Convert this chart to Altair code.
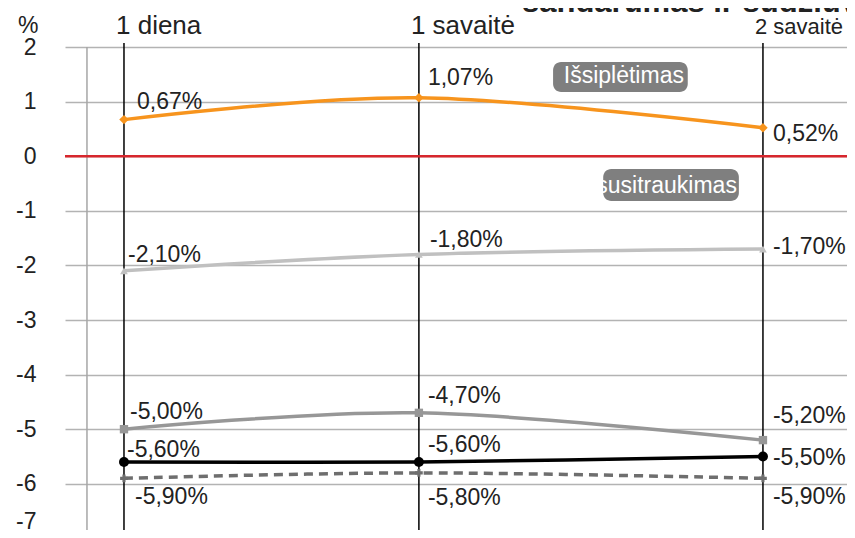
import altair as alt
import pandas as pd

# ---------------- data ----------------
days = [1, 7, 14]
period_labels = ["1 diena", "1 savaitė", "2 savaitė"]

series_keys = ["orange", "light", "gray", "black", "dashed"]
orange_vals = [0.67, 1.07, 0.52]
light_vals = [-2.10, -1.80, -1.70]
gray_vals = [-5.00, -4.70, -5.20]
black_vals = [-5.60, -5.60, -5.50]
dashed_vals = [-5.90, -5.80, -5.90]

y_tick_values = [2, 1, 0, -1, -2, -3, -4, -5, -6]
y_bottom_label = "-7"
y_unit_label = "%"
title_text = "sandarumas ir sudžiūvimas"
annot_texts = ["Išsiplėtimas", "susitraukimas"]

# ---------------- layout / style ----------------
W, H = 782, 483
X_DOMAIN = [-0.2, 15.71]
Y_MIN = -6.846
Y_DOMAIN = [Y_MIN, 2]
FONT = "Liberation Sans"
TXT = "#222222"
TOP_FONT_SIZES = [26, 26, 22]

STYLE = {
    "orange": dict(color="#f7941d", shape="diamond", size=90, dash=None),
    "light": dict(color="#c0c0c0", shape="triangle-up", size=60, dash=None),
    "gray": dict(color="#979797", shape="square", size=70, dash=None),
    "black": dict(color="#000000", shape="circle", size=100, dash=None),
    "dashed": dict(color="#6e6e6e", shape="cross", size=60, dash=[9, 6]),
}
LABEL_OFFSETS = {
    "orange": [(13, -18), (9, -20), (10, 6)],
    "light": [(4, -16), (11, -14), (10, -2)],
    "gray": [(6, -17), (9, -17), (10, -24)],
    "black": [(3, -12), (9, -17), (10, 1)],
    "dashed": [(11, 19), (9, 25), (10, 19)],
}
ANNOT_LAYOUT = [
    dict(x=9.73, x2=12.47, y=1.725, y2=1.176, tx=11.17, ty=1.469, align="center"),
    dict(x=10.75, x2=13.51, y=-0.234, y2=-0.82, tx=13.47, ty=-0.546, align="right"),
]

values_by_key = {
    "orange": orange_vals,
    "light": light_vals,
    "gray": gray_vals,
    "black": black_vals,
    "dashed": dashed_vals,
}

xscale = alt.Scale(domain=X_DOMAIN, nice=False, zero=False)
yscale = alt.Scale(domain=Y_DOMAIN, nice=False, zero=False)

yaxis = alt.Axis(
    values=y_tick_values + [Y_MIN],
    labelExpr=f"datum.value < -6.5 ? '{y_bottom_label}' : '' + datum.value",
    grid=True,
    gridColor="#b3b3b3",
    gridWidth=1.5,
    gridOpacity={"condition": {"test": "datum.value < -6.5", "value": 0}, "value": 1},
    domain=False,
    ticks=False,
    tickSize=0,
    labelPadding=29,
    labelFontSize=23,
    labelFont=FONT,
    labelColor=TXT,
    labelOffset={"condition": {"test": "datum.value < -6.5", "value": -9}, "value": 0},
    title=None,
)


def X(field="day"):
    return alt.X(f"{field}:Q", scale=xscale, axis=None)


def Y(field="value"):
    return alt.Y(f"{field}:Q", scale=yscale, axis=yaxis)


layers = []

# vertical gray line near the y axis
axis_line_df = pd.DataFrame({"day": [0.247], "value": [2], "value2": [Y_MIN]})
layers.append(
    alt.Chart(axis_line_df).mark_rule(color="#a6a6a6", strokeWidth=1.5).encode(
        x=X(), y=Y(), y2="value2:Q"
    )
)

# vertical black category lines
cat_df = pd.DataFrame({"day": days, "label": period_labels,
                       "value": [2.073] * 3, "value2": [Y_MIN] * 3})
layers.append(
    alt.Chart(cat_df).mark_rule(color="#000000", strokeWidth=1.5).encode(
        x=X(), y=Y(), y2="value2:Q"
    )
)

# red zero line
zero_df = pd.DataFrame({"day": [X_DOMAIN[0]], "day2": [X_DOMAIN[1]], "value": [0]})
layers.append(
    alt.Chart(zero_df).mark_rule(color="#d7262d", strokeWidth=2.5).encode(
        x=X(), x2="day2:Q", y=Y()
    )
)

# top category labels
for i in range(len(days)):
    layers.append(
        alt.Chart(cat_df.iloc[[i]]).mark_text(
            align="left", baseline="alphabetic", dx=-8,
            fontSize=TOP_FONT_SIZES[i], font=FONT, color=TXT
        ).encode(x=X(), y=alt.value(-13), text="label:N")
    )

# "%" unit label and (cut) title
unit_df = pd.DataFrame({"t": [y_unit_label]})
layers.append(
    alt.Chart(unit_df).mark_text(align="left", baseline="alphabetic", fontSize=23,
                                 font=FONT, color=TXT).encode(
        x=alt.value(-47), y=alt.value(-14), text="t:N"
    )
)
title_df = pd.DataFrame({"t": [title_text]})
layers.append(
    alt.Chart(title_df).mark_text(align="left", baseline="alphabetic", fontSize=31,
                                  fontWeight="bold", font=FONT, color=TXT).encode(
        x=alt.value(457), y=alt.value(-35), text="t:N"
    )
)

# annotation boxes
annot_df = pd.DataFrame([
    dict(text=t, day=a["x"], day2=a["x2"], value=a["y"], value2=a["y2"],
         tx=a["tx"], ty=a["ty"])
    for t, a in zip(annot_texts, ANNOT_LAYOUT)
])
layers.append(
    alt.Chart(annot_df).mark_rect(color="#7f7f7f", cornerRadius=8).encode(
        x=X(), x2="day2:Q", y=Y(), y2="value2:Q"
    )
)
for i, a in enumerate(ANNOT_LAYOUT):
    layers.append(
        alt.Chart(annot_df.iloc[[i]]).mark_text(
            align=a["align"], baseline="middle", fontSize=23, font=FONT, color="#ffffff"
        ).encode(x=X("tx"), y=Y("ty"), text="text:N")
    )

# series
for key in series_keys:
    st = STYLE[key]
    vals = values_by_key[key]
    offs = LABEL_OFFSETS[key]
    df = pd.DataFrame({
        "day": days,
        "value": vals,
        "label": [f"{v:.2f}".replace(".", ",") + "%" for v in vals],
    })
    line_kwargs = dict(color=st["color"], strokeWidth=3.5, interpolate="cardinal")
    if st["dash"]:
        line_kwargs["strokeDash"] = st["dash"]
    layers.append(alt.Chart(df).mark_line(**line_kwargs).encode(x=X(), y=Y()))
    layers.append(
        alt.Chart(df).mark_point(filled=True, opacity=1, shape=st["shape"],
                                 size=st["size"], color=st["color"]).encode(x=X(), y=Y())
    )
    for i, (dx, dy) in enumerate(offs):
        layers.append(
            alt.Chart(df.iloc[[i]]).mark_text(
                align="left", baseline="middle", fontSize=23, font=FONT, color=TXT,
                dx=dx, dy=dy
            ).encode(x=X(), y=Y(), text="label:N")
        )

chart = alt.layer(*layers).properties(
    width=W, height=H,
    autosize=alt.AutoSizeParams(type="none"),
    padding={"left": 57, "top": 39, "right": 0, "bottom": 0},
    background="#ffffff",
).configure_view(stroke=None)

chart.save("out.html", embed_options={"renderer": "svg", "actions": False})
